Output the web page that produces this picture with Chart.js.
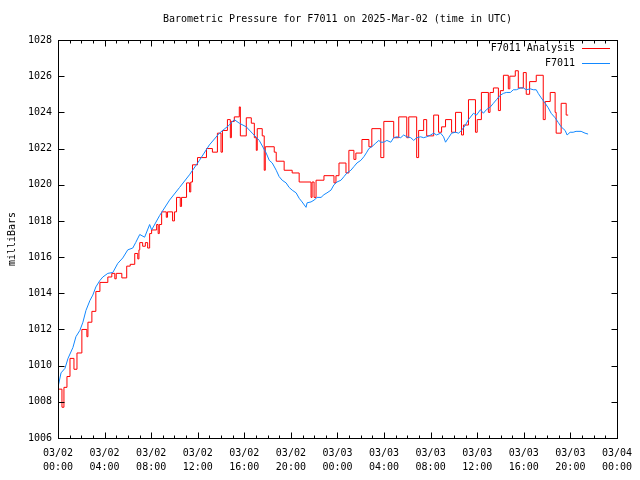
<!DOCTYPE html>
<html><head><meta charset="utf-8">
<script src="https://cdn.jsdelivr.net/npm/chart.js@4/dist/chart.umd.min.js"></script>
<style>html,body{margin:0;padding:0;background:#fff}</style>
</head><body>
<canvas id="c" width="640" height="480"></canvas>
<script>
const titleText = "Barometric Pressure for F7011 on 2025-Mar-02 (time in UTC)";
const yAxisLabel = "milliBars";
const seriesNames = ["F7011 Analysis", "F7011"];
const xTickHours = [0,4,8,12,16,20,24,28,32,36,40,44,48];
const xTickDates = ["03/02","03/02","03/02","03/02","03/02","03/02","03/03","03/03","03/03","03/03","03/03","03/03","03/04"];
const xTickTimes = ["00:00","04:00","08:00","12:00","16:00","20:00","00:00","04:00","08:00","12:00","16:00","20:00","00:00"];
const yTicks = [1006,1008,1010,1012,1014,1016,1018,1020,1022,1024,1026,1028];

// F7011 observed (hours since 03/02 00:00 UTC, mbar)
const blueHours = [0,0.26,0.60,0.86,1.28,1.54,1.88,2.14,2.40,2.74,2.99,3.25,3.59,3.85,4.28,4.71,5.13,5.56,5.99,6.42,6.67,
  7.02,7.44,7.87,8.04,8.73,9.58,10.44,11.29,12.15,13.0,13.86,14.71,15.14,15.57,16.17,16.68,17.28,17.88,
  18.14,18.40,18.74,18.99,19.25,19.59,19.85,20.11,20.45,20.71,20.96,21.30,21.39,21.73,21.99,22.25,22.59,22.84,23.10,23.44,23.70,23.96,24.30,24.56,24.81,25.15,25.41,25.67,26.01,26.27,26.52,
  26.70,26.95,27.29,27.55,27.72,27.98,28.24,28.58,28.83,29.09,29.43,29.69,29.95,30.29,30.55,30.80,31.14,31.40,31.66,32.00,32.26,32.51,32.86,33.11,33.28,33.54,33.80,34.14,34.40,34.65,34.99,35.25,
  35.68,35.94,36.28,36.53,36.79,37.13,37.39,37.65,37.99,38.25,38.50,38.85,39.10,39.36,39.70,39.96,40.21,40.56,40.81,41.07,41.24,41.50,41.84,42.10,42.35,42.69,42.95,43.21,43.55,43.72,43.98,44.24,44.49,44.92,45.26,45.52];
const blueValues = [1008.8,1009.6,1009.85,1010.4,1011.0,1011.6,1011.95,1012.4,1013.05,1013.6,1013.9,1014.35,1014.7,1014.9,1015.1,1015.15,1015.65,1015.95,1016.4,1016.5,1016.8,
  1017.25,1017.1,1017.8,1017.5,1018.3,1019.15,1019.85,1020.55,1021.35,1022.2,1022.85,1023.3,1023.6,1023.4,1023.2,1022.85,1022.45,1021.75,
  1021.35,1021.2,1020.8,1020.45,1020.25,1020.1,1019.85,1019.7,1019.55,1019.25,1019.05,1018.75,1019.0,1019.05,1019.15,1019.3,1019.3,1019.45,1019.55,1019.7,1020.0,1020.15,1020.25,1020.45,1020.65,1020.8,1021.0,1021.2,1021.35,1021.55,1021.8,
  1022.0,1022.1,1022.3,1022.45,1022.35,1022.35,1022.45,1022.35,1022.6,1022.65,1022.6,1022.75,1022.65,1022.6,1022.45,1022.6,1022.65,1022.6,1022.65,1022.75,1022.85,1022.75,1022.85,1022.65,1022.35,1022.6,1022.85,1022.9,1022.85,1023.0,1023.3,1023.6,
  1023.95,1023.85,1024.15,1023.95,1024.15,1024.3,1024.5,1024.7,1024.95,1025.05,1025.1,1025.1,1025.25,1025.25,1025.35,1025.35,1025.25,1025.3,1025.25,1025.25,1025.05,1024.8,1024.5,1024.25,1023.95,1023.7,1023.45,1023.2,1023.0,1022.75,1022.9,1022.9,1022.95,1022.95,1022.85,1022.8];

// F7011 Analysis (stepped)
const redHours = [0,0.34,0.51,0.77,1.03,1.37,1.63,2.05,2.48,2.57,2.91,3.25,3.60,4.28,4.62,4.88,5.00,5.48,5.90,6.20,6.59,6.85,6.95,7.02,7.27,7.50,7.70,7.87,8.04,8.47,8.60,8.70,8.90,9.30,9.40,9.84,10.00,10.18,10.50,10.61,11.04,11.30,11.40,11.55,11.98,12.75,13.26,13.69,14.00,14.12,14.55,14.80,14.89,15.14,15.57,15.66,16.17,16.60,16.86,17.03,17.11,17.54,17.71,17.80,18.57,18.74,19.42,20.11,20.71,21.73,21.82,21.99,22.16,22.84,23.70,23.87,24.13,24.73,24.98,25.41,25.58,26.10,26.70,26.95,27.72,27.98,28.83,29.26,29.95,30.12,30.80,30.97,31.40,31.66,32.26,32.68,32.94,33.28,33.80,34.14,34.65,34.82,35.25,35.85,36.00,36.36,36.96,37.10,37.39,37.82,37.99,38.25,38.67,38.80,39.27,39.53,39.96,40.21,40.50,41.07,41.67,41.84,42.27,42.69,42.78,43.21,43.64,43.81];
const redValues = [1008.7,1007.7,1008.8,1009.4,1010.4,1009.8,1010.7,1012.0,1011.6,1012.4,1013.0,1014.1,1014.6,1014.9,1015.1,1014.8,1015.1,1014.85,1015.5,1015.6,1016.2,1015.9,1016.4,1016.8,1016.6,1016.8,1016.5,1017.3,1017.5,1017.8,1017.3,1017.8,1018.5,1018.2,1018.5,1018.0,1018.5,1019.3,1018.8,1019.3,1020.1,1019.6,1020.15,1021.1,1021.5,1022.0,1021.8,1022.85,1021.8,1023.0,1023.6,1022.6,1023.5,1023.75,1024.3,1022.7,1023.7,1023.4,1022.6,1021.9,1023.1,1022.7,1020.8,1022.1,1021.8,1021.3,1020.8,1020.65,1020.15,1019.3,1020.15,1019.3,1020.25,1020.5,1020.1,1020.5,1021.2,1020.65,1021.9,1021.4,1021.75,1022.5,1022.1,1023.1,1021.5,1023.5,1022.6,1023.75,1022.6,1023.75,1021.5,1023.0,1023.6,1022.7,1023.85,1022.9,1023.2,1023.6,1022.9,1024.0,1022.75,1023.3,1024.7,1022.9,1023.6,1025.1,1024.0,1025.1,1025.35,1024.1,1025.2,1026.05,1025.3,1026.0,1026.3,1025.35,1026.2,1025.0,1025.7,1026.05,1023.6,1024.6,1025.1,1024.0,1022.85,1024.5,1023.85,1023.85];

const FONT = "'DejaVu Sans Mono', 'Liberation Mono', monospace";
const RED = '#ff0000';
const BLUE = '#1288ff';

const toXY = (xs, ys) => xs.map((x, i) => ({x: x, y: ys[i]}));

const framePlugin = {
  id: 'frame',
  afterDraw(chart) {
    const ctx = chart.ctx;
    const a = chart.chartArea;
    const xs = chart.scales.x, ys = chart.scales.y;
    const L = Math.round(a.left) + 0.5, R = Math.round(a.right) + 0.5;
    const T = Math.round(a.top) + 0.5, B = Math.round(a.bottom) + 0.5;
    ctx.save();
    ctx.strokeStyle = '#000';
    ctx.lineWidth = 1;
    ctx.beginPath();
    yTicks.forEach(v => {
      const p = Math.round(ys.getPixelForValue(v)) + 0.5;
      ctx.moveTo(L, p); ctx.lineTo(L + 6, p);
      ctx.moveTo(R, p); ctx.lineTo(R - 6, p);
    });
    for (let h = 0; h <= 48; h++) {
      const p = Math.round(xs.getPixelForValue(h)) + 0.5;
      const len = (h % 4 === 0) ? 6 : 3;
      ctx.moveTo(p, B); ctx.lineTo(p, B - len);
      ctx.moveTo(p, T); ctx.lineTo(p, T + len);
    }
    ctx.stroke();
    ctx.strokeRect(L, T, R - L, B - T);

    ctx.fillStyle = '#000';
    ctx.font = '10px ' + FONT;
    ctx.textBaseline = 'middle';
    ctx.textAlign = 'center';
    ctx.fillText(titleText, (a.left + a.right) / 2, 19);

    ctx.save();
    ctx.translate(12, (a.top + a.bottom) / 2);
    ctx.rotate(-Math.PI / 2);
    ctx.fillText(yAxisLabel, 0, 0);
    ctx.restore();

    ctx.textAlign = 'right';
    const rows = [[seriesNames[0], RED, 48], [seriesNames[1], BLUE, 63]];
    rows.forEach(r => {
      ctx.fillStyle = '#000';
      ctx.fillText(r[0], 575, r[2]);
      ctx.strokeStyle = r[1];
      ctx.beginPath();
      ctx.moveTo(582, r[2] + 0.5); ctx.lineTo(610, r[2] + 0.5);
      ctx.stroke();
    });
    ctx.restore();
  }
};

new Chart(document.getElementById('c'), {
  type: 'line',
  data: {
    datasets: [
      { label: seriesNames[0], data: toXY(redHours, redValues), borderColor: RED, borderWidth: 1,
        pointRadius: 0, stepped: true, tension: 0, fill: false, order: 2 },
      { label: seriesNames[1], data: toXY(blueHours, blueValues), borderColor: BLUE, borderWidth: 1,
        pointRadius: 0, tension: 0, fill: false, order: 1 }
    ]
  },
  options: {
    responsive: false,
    animation: false,
    devicePixelRatio: 1,
    layout: { padding: { top: 40, right: 21, bottom: 0, left: 0 } },
    plugins: { legend: { display: false }, title: { display: false }, tooltip: { enabled: false } },
    scales: {
      x: {
        type: 'linear', min: 0, max: 48,
        afterBuildTicks: s => { s.ticks = xTickHours.map(v => ({ value: v })); },
        afterFit: s => { s.height = 42; },
        grid: { display: false, drawTicks: false },
        border: { display: false },
        ticks: {
          autoSkip: false, maxRotation: 0, minRotation: 0, padding: 8, color: '#000',
          font: { family: FONT, size: 10, lineHeight: 1.4 },
          callback: (v) => { const i = xTickHours.indexOf(v); return i < 0 ? '' : [xTickDates[i], xTickTimes[i]]; }
        }
      },
      y: {
        type: 'linear', min: 1006, max: 1028,
        afterBuildTicks: s => { s.ticks = yTicks.map(v => ({ value: v })); },
        afterFit: s => { s.width = 58; },
        grid: { display: false, drawTicks: false },
        border: { display: false },
        ticks: { padding: 6, color: '#000', font: { family: FONT, size: 10 }, callback: v => String(v) }
      }
    }
  },
  plugins: [framePlugin]
});
</script>
</body></html>
